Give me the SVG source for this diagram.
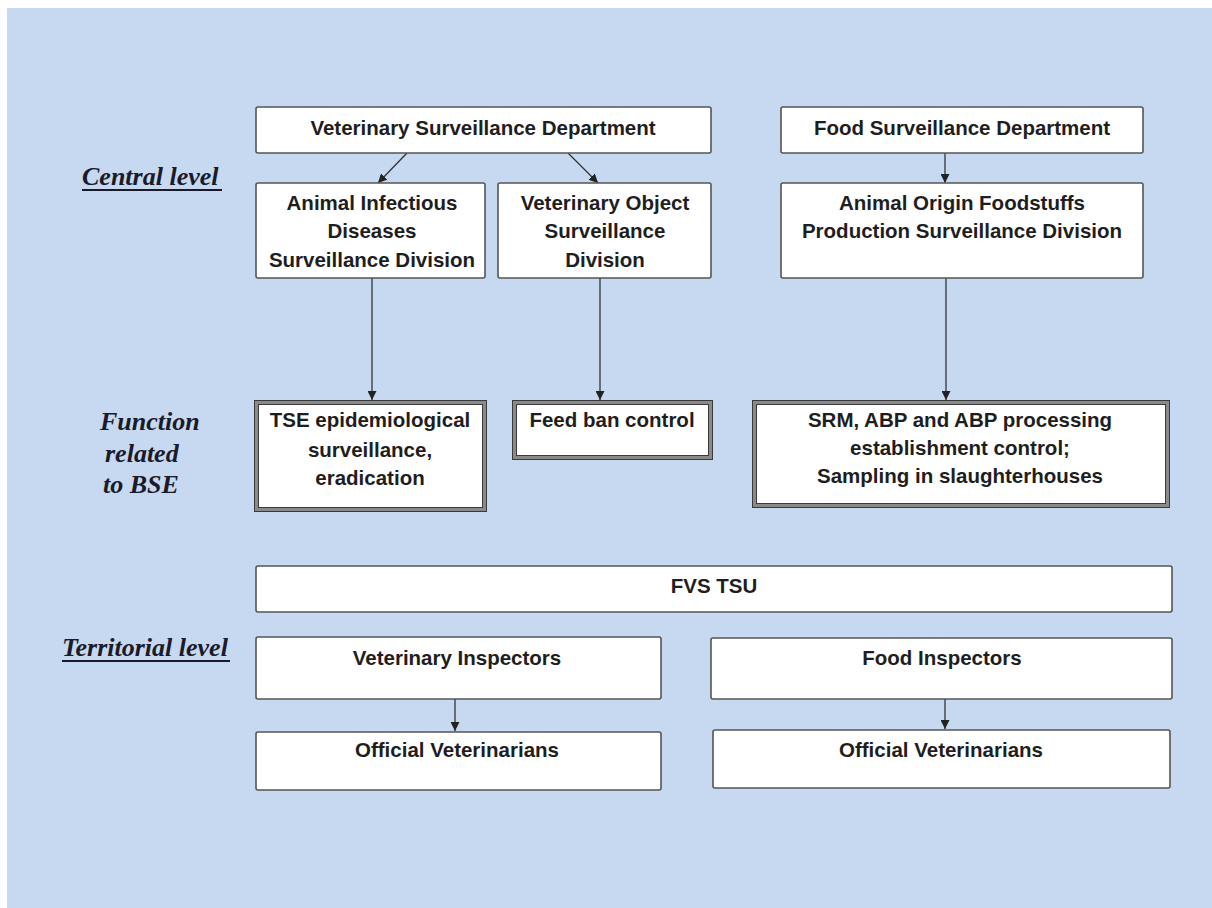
<svg xmlns="http://www.w3.org/2000/svg" width="1212" height="908" viewBox="0 0 1212 908">
<style>
.box{fill:#ffffff;stroke:#555555;stroke-width:1.6}
.dbl{fill:#ffffff;stroke:#8a8a8a;stroke-width:4}
.dbli{fill:none;stroke:#3a3a3a;stroke-width:1}
.t{font-family:"Liberation Sans",Arial,sans-serif;font-weight:bold;font-size:20.5px;fill:#1e1e1e;text-anchor:middle}
.lvl{font-family:"Liberation Serif","Times New Roman",serif;font-weight:bold;font-style:italic;font-size:26px;fill:#1a1a2a}
.con{stroke:#333333;stroke-width:1.3;fill:none;marker-end:url(#ah)}
</style>
<defs>
<marker id="ah" markerUnits="userSpaceOnUse" markerWidth="9" markerHeight="9" refX="9" refY="4.5" orient="auto">
<path d="M0,0 L9,4.5 L0,9 z" fill="#222222"/>
</marker>
</defs>
<rect x="0" y="0" width="1212" height="908" fill="#ffffff"/>
<rect x="7" y="8" width="1205" height="900" fill="#c6d9f0"/>

<g id="labels">
<text class="lvl" x="82" y="185">Central level</text>
<line x1="82" y1="190" x2="222" y2="190" stroke="#1a1a2a" stroke-width="1.8"/>
<text class="lvl" x="100" y="430">Function</text>
<text class="lvl" x="105" y="462">related</text>
<text class="lvl" x="103" y="493">to BSE</text>
<text class="lvl" x="62" y="656">Territorial level</text>
<line x1="62" y1="661" x2="230" y2="661" stroke="#1a1a2a" stroke-width="1.8"/>
</g>

<g id="connectors">
<line class="con" x1="407" y1="153" x2="378" y2="183"/>
<line class="con" x1="568" y1="153" x2="598" y2="183"/>
<line class="con" x1="945" y1="153" x2="945" y2="183"/>
<line class="con" x1="372" y1="278" x2="372" y2="400"/>
<line class="con" x1="600" y1="278" x2="600" y2="400"/>
<line class="con" x1="946" y1="278" x2="946" y2="400"/>
<line class="con" x1="455" y1="699" x2="455" y2="731"/>
<line class="con" x1="945" y1="699" x2="945" y2="729"/>
</g>

<g id="vsd">
<rect class="box" x="256" y="107" width="455" height="46" rx="2"/>
<text class="t" x="483" y="135">Veterinary Surveillance Department</text>
</g>
<g id="fsd">
<rect class="box" x="781" y="107" width="362" height="46" rx="2"/>
<text class="t" x="962" y="135">Food Surveillance Department</text>
</g>
<g id="aids">
<rect class="box" x="256" y="183" width="229" height="95" rx="2"/>
<text class="t" x="372" y="210">Animal Infectious</text>
<text class="t" x="372" y="238">Diseases</text>
<text class="t" x="372" y="267">Surveillance Division</text>
</g>
<g id="vosd">
<rect class="box" x="498" y="183" width="213" height="95" rx="2"/>
<text class="t" x="605" y="210">Veterinary Object</text>
<text class="t" x="605" y="238">Surveillance</text>
<text class="t" x="605" y="267">Division</text>
</g>
<g id="aofpsd">
<rect class="box" x="781" y="183" width="362" height="95" rx="2"/>
<text class="t" x="962" y="210">Animal Origin Foodstuffs</text>
<text class="t" x="962" y="238">Production Surveillance Division</text>
</g>

<g id="tse">
<rect class="dbl" x="256.5" y="402.5" width="228" height="107"/>
<rect class="dbli" x="254.5" y="400.5" width="232" height="111"/>
<rect class="dbli" x="258.5" y="404.5" width="224" height="103"/>
<text class="t" x="370" y="427">TSE epidemiological</text>
<text class="t" x="370" y="457">surveillance,</text>
<text class="t" x="370" y="485">eradication</text>
</g>
<g id="feedban">
<rect class="dbl" x="514.5" y="402.5" width="196" height="55"/>
<rect class="dbli" x="512.5" y="400.5" width="200" height="59"/>
<rect class="dbli" x="516.5" y="404.5" width="192" height="51"/>
<text class="t" x="612" y="427">Feed ban control</text>
</g>
<g id="srm">
<rect class="dbl" x="754.5" y="402.5" width="413" height="103"/>
<rect class="dbli" x="752.5" y="400.5" width="417" height="107"/>
<rect class="dbli" x="756.5" y="404.5" width="409" height="99"/>
<text class="t" x="960" y="427">SRM, ABP and ABP processing</text>
<text class="t" x="960" y="455">establishment control;</text>
<text class="t" x="960" y="483">Sampling in slaughterhouses</text>
</g>

<g id="fvstsu">
<rect class="box" x="256" y="566" width="916" height="46" rx="2"/>
<text class="t" x="714" y="593">FVS TSU</text>
</g>
<g id="vetinsp">
<rect class="box" x="256" y="637" width="405" height="62" rx="2"/>
<text class="t" x="457" y="665">Veterinary Inspectors</text>
</g>
<g id="foodinsp">
<rect class="box" x="711" y="638" width="461" height="61" rx="2"/>
<text class="t" x="942" y="665">Food Inspectors</text>
</g>
<g id="offvet1">
<rect class="box" x="256" y="732" width="405" height="58" rx="2"/>
<text class="t" x="457" y="757">Official Veterinarians</text>
</g>
<g id="offvet2">
<rect class="box" x="713" y="730" width="457" height="58" rx="2"/>
<text class="t" x="941" y="757">Official Veterinarians</text>
</g>
</svg>
